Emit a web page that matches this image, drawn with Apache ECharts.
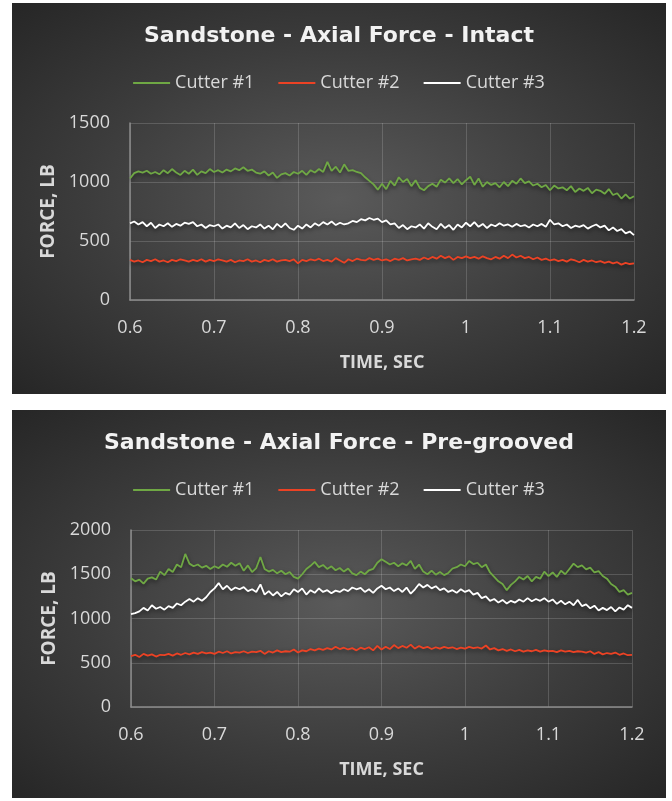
<!DOCTYPE html>
<html>
<head>
<meta charset="utf-8">
<script src="https://cdn.jsdelivr.net/npm/echarts@6/dist/echarts.min.js"></script>
<style>
  html, body { margin: 0; padding: 0; background: #ffffff; }
  body { width: 672px; height: 801px; position: relative; overflow: hidden; }
  .panel { position: absolute; left: 12px; width: 654px;
    background: radial-gradient(ellipse farthest-corner at 50% 50%, #5a5a5a 0%, #3c3c3c 55%, #262626 100%); }
  #c1 { top: 3px; height: 391px; }
  #c2 { top: 410px; height: 388px; }
</style>
</head>
<body>
<div id="c1" class="panel"></div>
<div id="c2" class="panel"></div>
<script>
const seriesNames = ['Cutter #1', 'Cutter #2', 'Cutter #3'];
const titles = ['Sandstone - Axial Force - Intact', 'Sandstone - Axial Force - Pre-grooved'];
const xTicks = { min: 0.6, max: 1.2, interval: 0.1 };
const yTicksIntact = { min: 0, max: 1500, interval: 500 };
const yTicksGrooved = { min: 0, max: 2000, interval: 500 };

const timeSec = [
0.600,0.605,0.610,0.615,0.620,0.625,0.630,0.635,0.640,0.645,
0.650,0.655,0.660,0.665,0.670,0.675,0.680,0.685,0.690,0.695,
0.700,0.705,0.710,0.715,0.720,0.725,0.730,0.735,0.740,0.745,
0.750,0.755,0.760,0.765,0.770,0.775,0.780,0.785,0.790,0.795,
0.800,0.805,0.810,0.815,0.820,0.825,0.830,0.835,0.840,0.845,
0.850,0.855,0.860,0.865,0.870,0.875,0.880,0.885,0.890,0.895,
0.900,0.905,0.910,0.915,0.920,0.925,0.930,0.935,0.940,0.945,
0.950,0.955,0.960,0.965,0.970,0.975,0.980,0.985,0.990,0.995,
1.000,1.005,1.010,1.015,1.020,1.025,1.030,1.035,1.040,1.045,
1.050,1.055,1.060,1.065,1.070,1.075,1.080,1.085,1.090,1.095,
1.100,1.105,1.110,1.115,1.120,1.125,1.130,1.135,1.140,1.145,
1.150,1.155,1.160,1.165,1.170,1.175,1.180,1.185,1.190,1.195,
1.200];

// Intact
const intactCutter1 = [
1030,1075,1090,1080,1095,1070,1085,1065,1100,1075,
1110,1080,1060,1095,1070,1105,1060,1090,1075,1110,
1085,1100,1080,1105,1090,1115,1100,1125,1095,1105,
1080,1070,1090,1055,1080,1035,1065,1075,1055,1085,
1070,1095,1060,1100,1080,1110,1085,1170,1095,1130,
1080,1150,1095,1100,1085,1075,1040,1010,980,935,
985,940,1010,970,1040,1000,1025,965,1015,950,
930,965,985,960,1020,995,1030,990,1025,980,
1015,1045,975,1030,960,1000,975,990,955,1000,
965,1010,985,1030,990,1005,970,985,955,975,
930,970,945,955,930,965,915,945,925,950,
905,935,925,900,940,890,905,860,895,860,
880];
const intactCutter2 = [
340,325,335,320,340,330,345,325,335,320,
340,330,345,335,325,340,330,345,325,340,
330,345,335,325,340,320,335,330,345,325,
335,320,340,330,345,325,335,340,330,345,
310,340,330,345,335,350,330,340,325,355,
335,315,345,330,350,340,335,355,340,350,
335,345,330,350,340,355,335,345,350,340,
360,345,365,350,375,355,370,340,365,355,
370,355,365,350,370,355,345,365,350,375,
355,385,360,375,355,365,345,360,340,350,
335,345,330,340,325,345,335,320,340,325,
335,320,330,315,325,310,320,300,315,305,
310];
const intactCutter3 = [
650,665,640,660,625,655,610,640,625,650,
620,645,630,655,645,660,625,640,610,635,
625,640,605,630,615,650,610,635,600,625,
615,640,605,630,600,645,615,650,610,595,
630,605,640,615,650,630,660,640,665,635,
655,640,650,670,660,685,675,695,680,690,
660,675,640,650,610,635,600,625,615,640,
605,650,620,600,645,610,635,595,640,615,
655,625,660,620,645,610,640,625,650,630,
640,620,645,625,635,615,640,625,645,620,
680,640,650,625,640,610,630,620,635,605,
625,640,615,630,590,615,585,600,565,580,
550];

// Pre-grooved
const groovedCutter1 = [
1455,1420,1440,1395,1450,1465,1440,1530,1490,1560,
1525,1610,1580,1730,1620,1590,1610,1575,1595,1560,
1590,1570,1610,1585,1630,1595,1625,1540,1600,1525,
1570,1695,1560,1530,1550,1510,1540,1500,1525,1470,
1450,1500,1560,1595,1640,1580,1605,1560,1590,1545,
1570,1530,1565,1510,1490,1530,1500,1545,1560,1630,
1670,1640,1610,1630,1590,1625,1600,1650,1560,1610,
1530,1500,1540,1495,1525,1490,1515,1565,1580,1610,
1590,1650,1615,1630,1580,1610,1520,1470,1420,1390,
1320,1380,1420,1470,1440,1480,1420,1470,1450,1530,
1480,1520,1470,1540,1500,1560,1620,1580,1600,1555,
1575,1520,1535,1480,1450,1390,1360,1300,1320,1270,
1290];
const groovedCutter2 = [
575,590,565,600,580,595,570,590,585,600,
580,605,590,610,595,615,600,620,605,615,
600,625,610,630,605,620,615,630,610,625,
620,635,600,630,615,640,620,630,625,650,
615,640,630,655,640,660,645,665,650,680,
655,670,650,665,640,670,655,675,640,690,
650,680,655,700,665,690,670,705,660,690,
665,680,655,675,660,680,665,675,655,670,
660,680,665,675,660,695,650,665,640,655,
635,650,630,645,625,640,630,645,625,640,
630,635,620,640,625,635,620,630,625,615,
630,600,620,595,610,600,615,590,605,585,
590];
const groovedCutter3 = [
1050,1060,1080,1120,1090,1150,1110,1130,1100,1140,
1120,1170,1150,1190,1220,1190,1230,1200,1240,1300,
1340,1400,1330,1370,1320,1350,1330,1355,1310,1330,
1300,1385,1270,1310,1260,1300,1250,1290,1270,1330,
1300,1340,1270,1320,1290,1340,1300,1320,1285,1315,
1300,1330,1310,1350,1330,1345,1300,1330,1290,1340,
1370,1330,1350,1310,1340,1300,1350,1280,1330,1390,
1350,1380,1340,1365,1320,1340,1300,1320,1290,1330,
1300,1320,1270,1290,1230,1250,1200,1220,1180,1210,
1170,1200,1180,1215,1190,1230,1195,1220,1200,1230,
1190,1215,1165,1200,1160,1190,1150,1210,1140,1160,
1115,1145,1090,1120,1095,1130,1080,1125,1100,1150,
1120];

const colors = ['#6fa844', '#ec4224', '#ffffff'];
const labelColor = '#d9d9d9';
const baseFont = 'Open Sans';

function pairs(vals) { return timeSec.map((t, i) => [t, vals[i]]); }

function makeOption(title, yTicks, data, grid) {
  return {
    backgroundColor: 'transparent',
    animation: false,
    color: colors,
    title: {
      text: title, left: 'center', top: 16,
      textStyle: { fontFamily: 'DejaVu Sans', fontWeight: 'bold', fontSize: 22, color: '#f2f2f2', lineHeight: 24 }
    },
    legend: {
      data: seriesNames, left: 'center', top: 66, itemWidth: 37, itemHeight: 2, itemGap: 24,
      icon: 'rect',
      textStyle: { fontFamily: baseFont, fontSize: 18, color: labelColor }
    },
    grid: grid,
    xAxis: {
      type: 'value', min: xTicks.min, max: xTicks.max, interval: xTicks.interval,
      name: 'TIME, SEC', nameLocation: 'middle', nameGap: 54,
      nameTextStyle: { fontFamily: baseFont, fontWeight: 'bold', fontSize: 18, color: labelColor },
      axisLine: { show: true, lineStyle: { color: '#8c8c8c', width: 1.5 } },
      axisTick: { show: false },
      axisLabel: { margin: 19, fontFamily: baseFont, fontSize: 18, color: labelColor,
        formatter: v => String(Number(v.toFixed(1))) },
      splitLine: { show: true, lineStyle: { color: 'rgba(255,255,255,0.16)', width: 1 } }
    },
    yAxis: {
      type: 'value', min: yTicks.min, max: yTicks.max, interval: yTicks.interval,
      name: 'FORCE, LB', nameLocation: 'middle', nameGap: 66, nameRotate: 90,
      nameTextStyle: { fontFamily: baseFont, fontWeight: 'bold', fontSize: 19, color: labelColor },
      axisLine: { show: true, lineStyle: { color: '#8c8c8c', width: 1.5 } },
      axisTick: { show: false },
      axisLabel: { margin: 20, fontFamily: baseFont, fontSize: 18, color: labelColor,
        formatter: v => String(v) },
      splitLine: { show: true, lineStyle: { color: 'rgba(255,255,255,0.16)', width: 1 } }
    },
    series: data.map((vals, k) => ({
      name: seriesNames[k], type: 'line', data: pairs(vals), symbol: 'none', smooth: false,
      lineStyle: { width: 1.8, color: colors[k], shadowColor: 'rgba(0,0,0,0.55)', shadowBlur: 4, shadowOffsetY: 2 },
      z: k === 1 ? 3 : 2
    }))
  };
}

const chart1 = echarts.init(document.getElementById('c1'), null, { renderer: 'canvas' });
chart1.setOption(makeOption(titles[0], yTicksIntact,
  [intactCutter1, intactCutter2, intactCutter3],
  { left: 118, right: 32, top: 120, bottom: 94 }));

const chart2 = echarts.init(document.getElementById('c2'), null, { renderer: 'canvas' });
chart2.setOption(makeOption(titles[1], yTicksGrooved,
  [groovedCutter1, groovedCutter2, groovedCutter3],
  { left: 119, right: 34, top: 120, bottom: 91 }));
</script>
</body>
</html>
